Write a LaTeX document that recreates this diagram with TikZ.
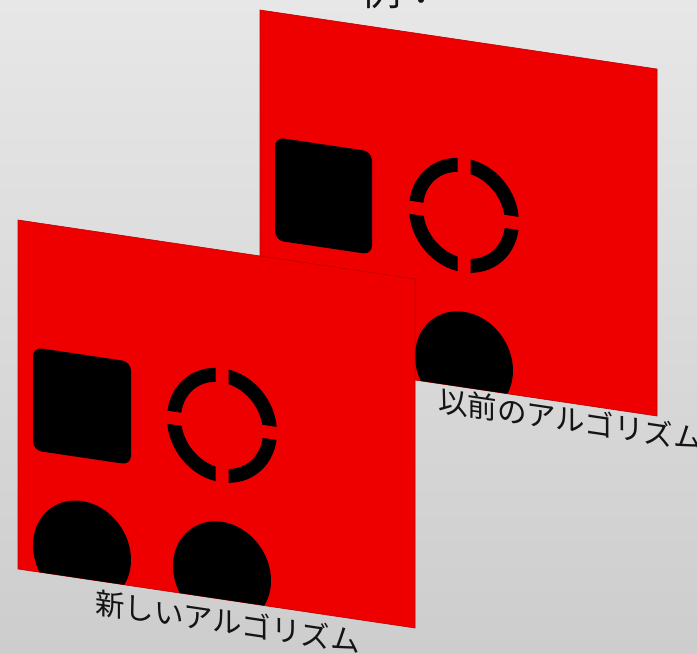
\documentclass[tikz,border=0pt]{standalone}
\usepackage{fontspec}
\newfontfamily\jpfont{Noto Sans CJK JP}
\definecolor{bgtop}{RGB}{231,231,231}
\definecolor{bgbot}{RGB}{205,205,205}
\definecolor{panelred}{RGB}{238,0,0}
\definecolor{paneledge}{RGB}{190,0,0}
\definecolor{textdark}{RGB}{20,20,20}
\tikzset{
  panel/.style={fill=panelred, draw=paneledge, line width=0.6pt},
  sqshape/.style={fill=black, rounded corners=9pt},
  ringstroke/.style={draw=black, line width=14pt},
  gapstrip/.style={fill=panelred},
  dotshape/.style={fill=black},
  caption/.style={font=\jpfont\fontsize{29.5}{29.5}\selectfont, text=textdark, inner sep=0pt, anchor=base west, transform shape},
  titletext/.style={font=\jpfont\fontsize{40}{40}\selectfont, text=textdark, inner sep=0pt, anchor=base west},
}
\begin{document}
\begin{tikzpicture}[x=1pt,y=-1pt]
\useasboundingbox (0,0) rectangle (697,654);
\shade[top color=bgtop, bottom color=bgbot] (0,0) rectangle (697,654);

\node[titletext] (title) at (361,5) {例：};

% back panel (old algorithm)
\begin{scope}[shift={(260,10)}, cm={1,-0.1486,0,1,(0,0)}]
  \path[panel] (0,0) rectangle (397,347);
  \begin{scope}
    \clip (0,0) rectangle (397,347);
    \path[sqshape] (15,125) rectangle (112,228);
    \draw[ringstroke] (204,175) ellipse [x radius=48, y radius=50];
    \fill[gapstrip] (197.5,110) rectangle (210.5,240);
    \fill[gapstrip] (130,168.5) rectangle (280,181.5);
    \path[dotshape] (204,323) ellipse [x radius=49, y radius=51.5];
  \end{scope}
  \node[caption] (oldlabel) at (178,375) {以前のアルゴリズム};
\end{scope}

% front panel (new algorithm)
\begin{scope}[shift={(18,220)}, cm={1,-0.1486,0,1,(0,0)}]
  \path[panel] (0,0) rectangle (397,349);
  \begin{scope}
    \clip (0,0) rectangle (397,349);
    \path[sqshape] (15,125) rectangle (113,228);
    \draw[ringstroke] (204,175) ellipse [x radius=48, y radius=50];
    \fill[gapstrip] (197.5,110) rectangle (210.5,240);
    \fill[gapstrip] (130,168.5) rectangle (280,181.5);
    \path[dotshape] (64,323) ellipse [x radius=49, y radius=51.5];
    \path[dotshape] (204,323) ellipse [x radius=49, y radius=51.5];
  \end{scope}
  \node[caption] (newlabel) at (77,382) {新しいアルゴリズム};
\end{scope}
\end{tikzpicture}
\end{document}
